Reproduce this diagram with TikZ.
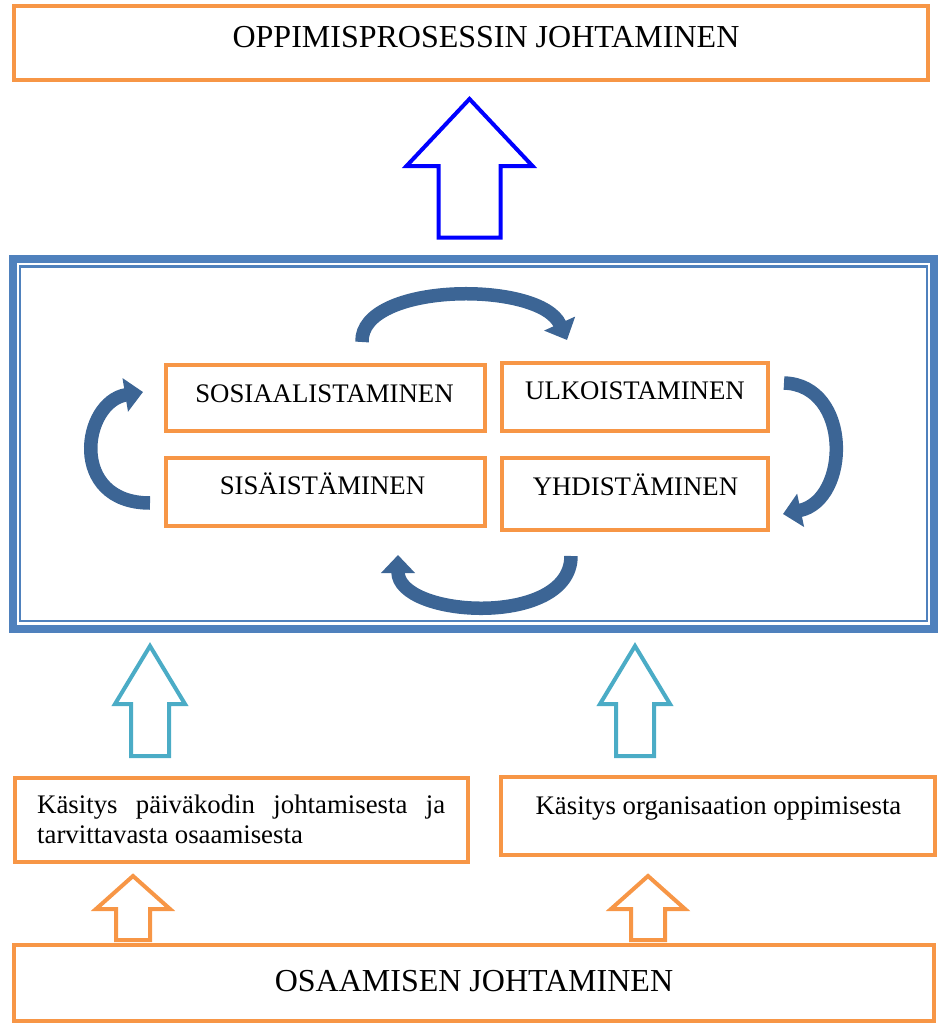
\documentclass[tikz,border=0pt]{standalone}
\usepackage{fontspec}
\setmainfont{Liberation Serif}
\usetikzlibrary{arrows.meta}
\definecolor{boxorange}{HTML}{F79646}
\definecolor{frameblue}{HTML}{4F81BD}
\definecolor{cyclearrow}{HTML}{3C6595}
\definecolor{feedcyan}{HTML}{4BACC6}
\definecolor{pureblue}{RGB}{0,0,255}

% hollow upward block arrow: colour, centre x, tip y, head base y, head half width, shaft half width, bottom y
\newcommand\hollowup[7]{%
  \draw[hollowarrow, draw=#1] (#2,#3) -- ({#2+#5},#4) -- ({#2+#6},#4) -- ({#2+#6},#7)
    -- ({#2-#6},#7) -- ({#2-#6},#4) -- ({#2-#5},#4) -- cycle;}

\begin{document}
\begin{tikzpicture}[x=1pt,y=-1pt,
  obox/.style={draw=boxorange, line width=4pt, rectangle, inner sep=0pt},
  txt/.style={inner sep=0pt, anchor=base, font=\fontsize{26.8}{30}\selectfont},
  bigtxt/.style={inner sep=0pt, anchor=base, font=\fontsize{32}{36}\selectfont},
  cyclearr/.style={draw=cyclearrow, line width=13.5pt, -{Triangle[width=33pt,length=18pt]}},
  hollowarrow/.style={line width=4pt, line join=miter, fill=white}
]
\useasboundingbox (0,0) rectangle (942,1025);

% top and bottom boxes
\node[obox, minimum width=914pt, minimum height=74pt] (top) at (471,43) {};
\node[bigtxt] (toptxt) at (486,48) {OPPIMISPROSESSIN JOHTAMINEN};
\node[obox, minimum width=920pt, minimum height=76pt] (bottom) at (474,983) {};
\node[bigtxt] (bottomtxt) at (474,991) {OSAAMISEN JOHTAMINEN};

% framed knowledge cycle
\node[draw=frameblue, line width=8pt, rectangle, inner sep=0pt,
      minimum width=921.5pt, minimum height=370pt] (frame) at (473.25,443.5) {};
\node[draw=frameblue, line width=2.5pt, rectangle, inner sep=0pt,
      minimum width=907pt, minimum height=354.5pt] (frameinner) at (473.5,443.75) {};

\node[obox, minimum width=319pt, minimum height=66pt] (sos) at (325.5,398) {};
\node[txt] (sostxt) at (324.5,402) {SOSIAALISTAMINEN};
\node[obox, minimum width=266pt, minimum height=68pt] (ulk) at (635,397) {};
\node[txt] (ulktxt) at (635,399) {ULKOISTAMINEN};
\node[obox, minimum width=319pt, minimum height=68pt] (sis) at (325.5,492) {};
\node[txt] (sistxt) at (322.5,494) {SISÄISTÄMINEN};
\node[obox, minimum width=266pt, minimum height=72pt] (yhd) at (635,494) {};
\node[txt] (yhdtxt) at (635.5,495) {YHDISTÄMINEN};

% cycle arrows
\coordinate (c1s) at (362,342);  \coordinate (c1e) at (567,340);
\coordinate (c2s) at (784,383);  \coordinate (c2e) at (783,514);
\coordinate (c3s) at (571,556);  \coordinate (c3e) at (398,555);
\coordinate (c4s) at (150,503);  \coordinate (c4e) at (143,392);
\draw[cyclearr] (c1s) .. controls (360,282) and (540,280) .. (c1e);
\draw[cyclearr] (c2s) .. controls (852,385) and (850,500) .. (c2e);
\draw[cyclearr] (c3s) .. controls (571,628) and (398,618) .. (c3e);
\draw[cyclearr] (c4s) .. controls (68,503) and (82,402) .. (c4e);

% middle boxes
\node[obox, minimum width=453pt, minimum height=84pt] (leftmid) at (241,820) {};
\node[inner sep=0pt, anchor=base west] (lefttxt) at (37,813)
  {\parbox[t]{408pt}{\fontsize{26.8}{30}\selectfont
   Käsitys\hfill päiväkodin\hfill johtamisesta\hfill ja\\tarvittavasta osaamisesta}};
\node[obox, minimum width=434pt, minimum height=78pt] (rightmid) at (718,816) {};
\node[txt] (righttxt) at (718.5,814) {Käsitys organisaation oppimisesta};

% block arrows
\hollowup{pureblue}{469.5}{99}{166}{63}{31}{237.5}
\hollowup{feedcyan}{150}{646}{704}{35}{19}{756}
\hollowup{feedcyan}{635}{646}{704}{35}{19}{756}
\hollowup{boxorange}{133}{876}{909}{37}{17}{940}
\hollowup{boxorange}{648}{876}{909}{37}{17}{940}
\end{tikzpicture}
\end{document}
